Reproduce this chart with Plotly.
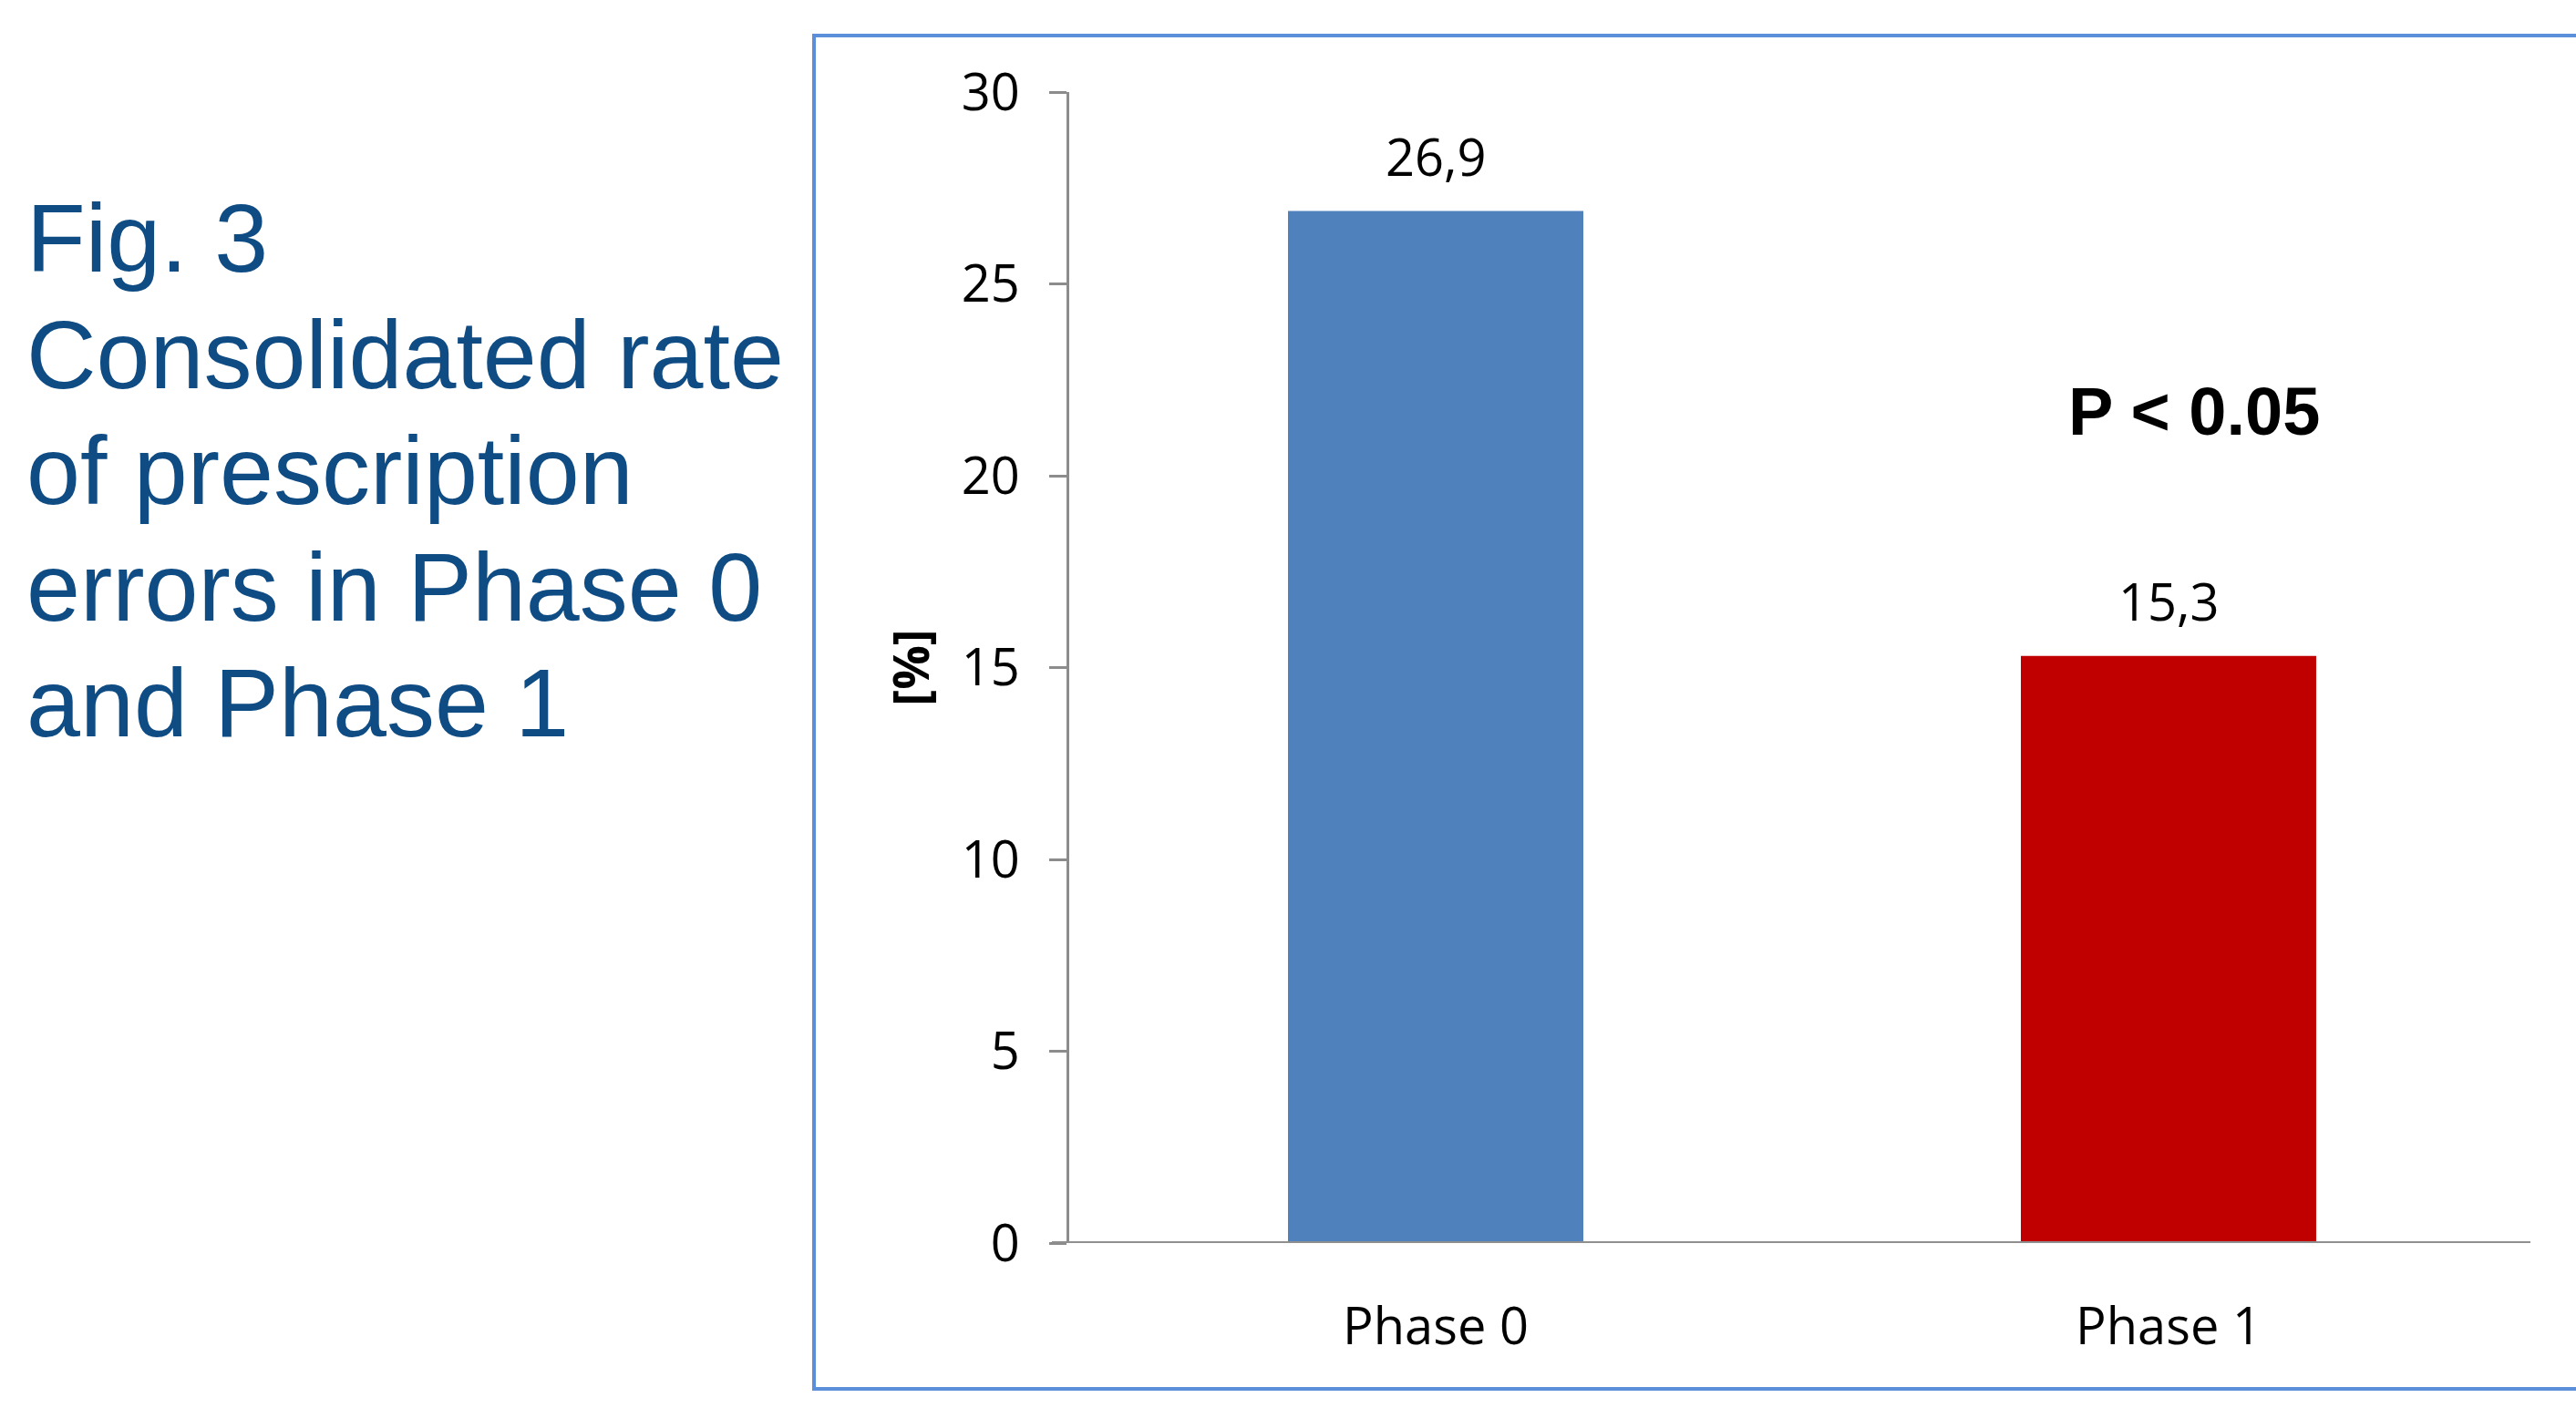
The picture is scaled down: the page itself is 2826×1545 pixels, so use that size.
import plotly.graph_objects as go

# Data
categories = ["Phase 0", "Phase 1"]
error_rates = [26.9, 15.3]
bar_colors = ["#4F81BD", "#C00000"]
y_ticks = [0, 5, 10, 15, 20, 25, 30]
title_lines = [
    "Fig. 3",
    "Consolidated rate",
    "of prescription",
    "errors in Phase 0",
    "and Phase 1",
]
p_value_text = "P < 0.05"

W, H = 2826, 1545


def px_x(p):
    return p / W


def px_y(p):
    return (H - p) / H


CHART_FONT = "Open Sans, Noto Sans, sans-serif"
TITLE_FONT = "Liberation Sans, Arial, sans-serif"
AXIS_GREY = "#8C8C8C"

fig = go.Figure()

fig.add_trace(
    go.Bar(
        x=categories,
        y=error_rates,
        marker=dict(color=bar_colors, line=dict(width=0)),
        width=0.403,
        hoverinfo="skip",
        showlegend=False,
    )
)

annotations = []

# Value labels above each bar (decimal comma)
for cat, val in zip(categories, error_rates):
    annotations.append(
        dict(
            x=cat, y=val, xref="x", yref="y",
            text=f"{val:.1f}".replace(".", ","),
            showarrow=False, xanchor="center", yanchor="middle", yshift=61,
            font=dict(family=CHART_FONT, size=56, color="black"),
        )
    )

# Significance note
annotations.append(
    dict(
        x=px_x(2407), y=px_y(452), xref="paper", yref="paper",
        text=f"<b>{p_value_text}</b>", showarrow=False,
        xanchor="center", yanchor="middle",
        font=dict(family=TITLE_FONT, size=74, color="black"),
    )
)

# Figure caption on the left, one line per annotation
caption_centres = [261, 389, 516, 644, 771]
for line, yc in zip(title_lines, caption_centres):
    annotations.append(
        dict(
            x=px_x(27), y=px_y(yc), xref="paper", yref="paper",
            text=line, showarrow=False, xanchor="left", yanchor="middle",
            font=dict(family=TITLE_FONT, size=106, color="#0F4C84"),
        )
    )

shapes = [
    # frame around the chart area
    dict(
        type="rect", xref="paper", yref="paper",
        x0=px_x(893), x1=px_x(2840), y0=px_y(1524), y1=px_y(39),
        line=dict(color="#5B8FD9", width=4), fillcolor="rgba(0,0,0,0)",
        layer="below",
    ),
    # horizontal category axis line at y = 0
    dict(
        type="line", xref="paper", yref="y",
        x0=px_x(1154), x1=px_x(2776), y0=0, y1=0,
        line=dict(color="#8F8F8F", width=4), layer="above",
    ),
]

fig.update_layout(
    width=W, height=H,
    margin=dict(l=0, r=0, t=0, b=0, pad=0, autoexpand=False),
    paper_bgcolor="white", plot_bgcolor="white",
    bargap=0.6,
    annotations=annotations,
    shapes=shapes,
    xaxis=dict(
        domain=[px_x(1173), px_x(2781)],
        range=[-0.5, 1.5],
        type="category",
        automargin=False,
        showline=False, showgrid=False, zeroline=False,
        ticks="", ticklabelstandoff=54,
        tickfont=dict(family=CHART_FONT, size=56, color="black"),
        fixedrange=True,
    ),
    yaxis=dict(
        domain=[px_y(1364), px_y(101)],
        range=[0, 30],
        automargin=False,
        tickvals=y_ticks,
        ticktext=[str(t) for t in y_ticks],
        showline=True, linecolor=AXIS_GREY, linewidth=3,
        ticks="outside", ticklen=19, tickwidth=3, tickcolor=AXIS_GREY,
        ticklabelstandoff=21,
        showgrid=False, zeroline=False,
        tickfont=dict(family=CHART_FONT, size=56, color="black"),
        title=dict(
            text="<b>[%]</b>", standoff=18,
            font=dict(family=CHART_FONT, size=54, color="black"),
        ),
        fixedrange=True,
    ),
)

fig.write_html("out.html")
